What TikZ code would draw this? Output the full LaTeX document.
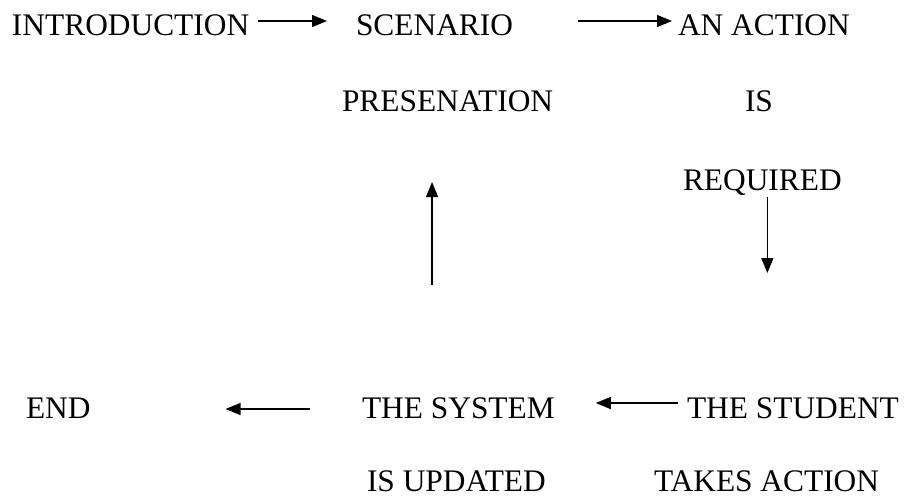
\documentclass[tikz,border=0pt]{standalone}
\usepackage{fontspec}
\setmainfont{Liberation Serif}
\usetikzlibrary{arrows.meta}
\begin{document}
\begin{tikzpicture}[x=1pt,y=-1pt,
  label/.style={anchor=base west,inner sep=0pt,outer sep=0pt,
    text height=21pt,text depth=0pt,font=\fontsize{31.4}{36}\selectfont},
  flow/.style={line width=1.3pt,-{Triangle[length=15pt,width=12pt]}}]
  \useasboundingbox (0,0) rectangle (907,498);
  % first row
  \node[label] (intro)  at (12,35)  {INTRODUCTION};
  \node[label] (scen)   at (356,35) {SCENARIO};
  \node[label] (action) at (678,35) {AN ACTION};
  % second and third rows
  \node[label] (pres)   at (342,111) {PRESENATION};
  \node[label] (is)     at (745,111) {IS};
  \node[label] (req)    at (683,190) {REQUIRED};
  % bottom rows
  \node[label] (end)    at (26,418)  {END};
  \node[label] (sys)    at (362,418) {THE SYSTEM};
  \node[label] (stud)   at (687,418) {THE STUDENT};
  \node[label] (upd)    at (367,491) {IS UPDATED};
  \node[label] (takes)  at (654,491) {TAKES ACTION};
  % free ends of the vertical arrows
  \coordinate (downtip) at ([shift={(5,83)}]req.south);
  \coordinate (upfoot)  at ([shift={(-15.5,174)}]pres.south);
  % arrows
  \draw[flow] ([shift={(9,-3.5)}]intro.east) -- ([shift={(-29,-3.5)}]scen.west);
  \draw[flow] ([shift={(65,-3.5)}]scen.east) -- ([shift={(-6,-3.5)}]action.west);
  \draw[flow] ([shift={(5,7)}]req.south) -- (downtip);
  \draw[flow] ([shift={(-9,-4.5)}]stud.west) -- ([shift={(41,-4.5)}]sys.east);
  \draw[flow] ([shift={(-52,1.5)}]sys.west) -- ([shift={(135,1.5)}]end.east);
  \draw[flow] (upfoot) -- ([shift={(-15.5,71)}]pres.south);
\end{tikzpicture}
\end{document}
